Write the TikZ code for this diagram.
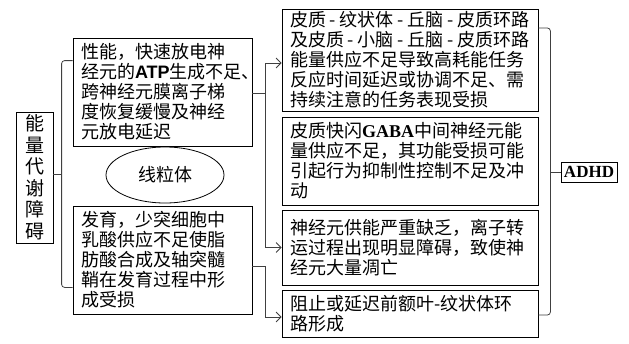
\documentclass[tikz,border=0pt]{standalone}
\usepackage{fontspec}
\setmainfont{Noto Sans CJK SC}
\newfontfamily\serifb{Liberation Serif}
\newfontfamily\sansb{Liberation Sans}
\usetikzlibrary{shapes.geometric,arrows.meta,calc}
\newcommand{\hy}{\hbox to 14pt{\hss-\hss}}
\begin{document}
\begin{tikzpicture}[x=1pt,y=-1pt,
  box/.style={draw, rectangle, line width=0.8pt, inner xsep=8pt, inner ysep=0pt, align=left,
    font=\fontsize{18}{20}\selectfont},
  conn/.style={draw=black!75, line width=0.8pt},
  arr/.style={conn, -{Straight Barb[length=5pt,width=10pt]}}]
\useasboundingbox (0,0) rectangle (629,343);
\fill[white] (0,0) rectangle (629,343);

\node[box, inner xsep=0pt, minimum width=37pt, minimum height=131pt, align=center,
  font=\fontsize{19}{21.5}\selectfont] (L) at (34.5,177.5) {能\\量\\代\\谢\\障\\碍};

\node[box, text width=163pt, minimum height=108pt] (M1) at (162.5,92)
  {性能，快速放电神\\经元的{\sansb\bfseries ATP}生成不足、\\跨神经元膜离子梯\\度恢复缓慢及神经\\元放电延迟};
\node[ellipse, draw, line width=0.8pt, minimum width=118pt, minimum height=56pt, inner sep=0pt,
  font=\fontsize{18}{20}\selectfont] (E) at (165,175) {线粒体};
\node[box, text width=163pt, minimum height=108pt] (M2) at (162.5,260)
  {发育，少突细胞中\\乳酸供应不足使脂\\肪酸合成及轴突髓\\鞘在发育过程中形\\成受损};

\node[box, text width=240pt, minimum height=102pt] (R1) at (410,60)
  {皮质\hy 纹状体\hy 丘脑\hy 皮质环路\\及皮质\hy 小脑\hy 丘脑\hy 皮质环路\\能量供应不足导致高耗能任务\\反应时间延迟或协调不足、需\\持续注意的任务表现受损};
\node[box, text width=240pt, minimum height=88pt] (R2) at (410,161)
  {皮质快闪{\serifb\bfseries GABA}中间神经元能\\量供应不足，其功能受损可能\\引起行为抑制性控制不足及冲\\动};
\node[box, text width=240pt, minimum height=75pt] (R3) at (410,247.5)
  {神经元供能严重缺乏，离子转\\运过程出现明显障碍，致使神\\经元大量凋亡};
\node[box, text width=240pt, minimum height=47pt] (R4) at (410,313.5)
  {阻止或延迟前额叶-纹状体环\\路形成};

\node[draw, line width=0.8pt, inner sep=1pt, minimum width=56pt, minimum height=20pt,
  font=\serifb\bfseries\fontsize{17}{17}\selectfont] (A) at (589,172) {ADHD};

% left bracket
\draw[conn] ([yshift=3.5pt]L.east) -- ++(9,0);
\draw[conn, rounded corners=3pt] ([yshift=-23pt]M1.north west) -- ++(-11,0) |- ([yshift=27pt]M2.south west);

% middle connectors
\coordinate (j1) at ($(M1.east)+(13,1)$);
\draw[conn] (M1.east |- j1) -- (j1);
\draw[arr] (j1) |- ([yshift=-3pt]R1.west);
\draw[arr] (j1) |- (R3.west);
\coordinate (j2) at ($(M2.east)+(13,6)$);
\draw[conn] (M2.east |- j2) -- (j2);
\draw[arr] (j2) |- ([yshift=-3.5pt]R4.west);

% right bracket
\draw[conn, rounded corners=3pt] ([yshift=32pt]R1.east) -- ++(12,0) |- ([yshift=-1.5pt]R4.east);
\draw[conn] (A.west) -- ++(-11,0);
\end{tikzpicture}
\end{document}
